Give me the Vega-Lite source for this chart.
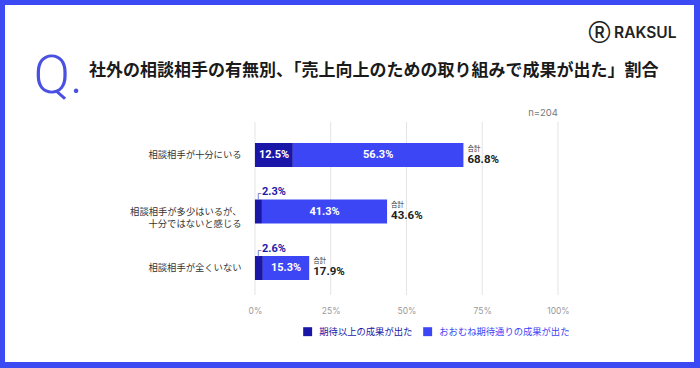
{
  "$schema": "https://vega.github.io/schema/vega-lite/v6.json",
  "width": 689,
  "height": 357,
  "autosize": {"type": "none"},
  "padding": {"left": 5, "top": 5, "right": 6, "bottom": 6},
  "background": "#3B4AF3",
  "view": {"fill": "#ffffff", "stroke": null},
  "title": {
    "text": "社外の相談相手の有無別、「売上向上のための取り組みで成果が出た」割合",
    "anchor": "start",
    "frame": "group",
    "dx": 84,
    "offset": -83,
    "baseline": "middle",
    "font": "Noto Sans CJK JP",
    "fontSize": 17,
    "fontWeight": "bold",
    "color": "#1a1a1a"
  },
  "datasets": {
    "bars": [
      {"cat": "相談相手が十分にいる", "series": "期待以上の成果が出た", "value": 0.125},
      {"cat": "相談相手が十分にいる", "series": "おおむね期待通りの成果が出た", "value": 0.563},
      {"cat": "相談相手が多少はいるが、十分ではないと感じる", "series": "期待以上の成果が出た", "value": 0.023},
      {"cat": "相談相手が多少はいるが、十分ではないと感じる", "series": "おおむね期待通りの成果が出た", "value": 0.413},
      {"cat": "相談相手が全くいない", "series": "期待以上の成果が出た", "value": 0.026},
      {"cat": "相談相手が全くいない", "series": "おおむね期待通りの成果が出た", "value": 0.153}
    ],
    "totals": [
      {"cat": "相談相手が十分にいる", "total": 0.688, "word": "合計"},
      {"cat": "相談相手が多少はいるが、十分ではないと感じる", "total": 0.436, "word": "合計"},
      {"cat": "相談相手が全くいない", "total": 0.179, "word": "合計"}
    ],
    "grid": [{"pct": 0}, {"pct": 0.25}, {"pct": 0.5}, {"pct": 0.75}, {"pct": 1}],
    "note": [{"note": "n=204"}]
  },
  "layer": [
    {
      "data": {"name": "grid"},
      "mark": {"type": "rule", "color": "#e4e4e4", "strokeWidth": 1},
      "encoding": {
        "x": {"field": "pct", "type": "quantitative"},
        "y": {"datum": "相談相手が十分にいる", "type": "nominal", "bandPosition": -0.875},
        "y2": {"datum": "相談相手が全くいない", "bandPosition": 1.625}
      }
    },
    {
      "data": {"name": "bars"},
      "transform": [
        {"stack": "value", "groupby": ["cat"], "sort": [{"field": "series", "order": "descending"}], "as": ["v0", "v1"]}
      ],
      "mark": {"type": "bar"},
      "encoding": {
        "y": {
          "field": "cat",
          "type": "nominal",
          "sort": ["相談相手が十分にいる", "相談相手が多少はいるが、十分ではないと感じる", "相談相手が全くいない"],
          "scale": {
            "domain": ["相談相手が十分にいる", "相談相手が多少はいるが、十分ではないと感じる", "相談相手が全くいない"],
            "range": [138, 275],
            "paddingInner": 0.575,
            "paddingOuter": 0
          },
          "axis": {
            "orient": "left",
            "offset": -236,
            "domain": false,
            "ticks": false,
            "grid": false,
            "labelPadding": 0,
            "labelFont": "Noto Sans CJK JP",
            "labelFontSize": 9.3,
            "labelColor": "#333333",
            "labelLimit": 400,
            "labelLineHeight": 12.5,
            "labelExpr": "datum.value == '相談相手が多少はいるが、十分ではないと感じる' ? ['相談相手が多少はいるが、', '十分ではないと感じる'] : datum.label",
            "title": "Q.",
            "titleAngle": 0,
            "titleX": -208,
            "titleY": 87,
            "titleAlign": "left",
            "titleBaseline": "alphabetic",
            "titleFont": "Roboto",
            "titleFontWeight": 300,
            "titleFontSize": 54,
            "titleColor": "#4A50E2"
          }
        },
        "x": {
          "field": "v0",
          "type": "quantitative",
          "scale": {"domain": [-0.825, 1.449], "nice": false, "zero": false},
          "axis": {
            "orient": "bottom",
            "offset": -56,
            "values": [0, 0.25, 0.5, 0.75, 1],
            "format": ".0%",
            "labelFont": "Inter",
            "labelFontSize": 8.5,
            "labelColor": "#9a9a9a",
            "labelPadding": 0,
            "labelOverlap": false,
            "domain": false,
            "ticks": false,
            "grid": false,
            "title": "Ⓡ RAKSUL",
            "titleX": 671,
            "titleY": -274,
            "titleAlign": "right",
            "titleBaseline": "middle",
            "titleFont": "Inter",
            "titleFontSize": 15.5,
            "titleFontWeight": 600,
            "titleColor": "#222222"
          }
        },
        "x2": {"field": "v1"},
        "color": {
          "field": "series",
          "type": "nominal",
          "scale": {
            "domain": ["期待以上の成果が出た", "おおむね期待通りの成果が出た"],
            "range": ["#1A16A8", "#3C46F5"]
          },
          "legend": {
            "orient": "none",
            "legendX": 298,
            "legendY": 322,
            "direction": "horizontal",
            "title": null,
            "symbolType": "square",
            "symbolSize": 80,
            "symbolStrokeWidth": 0,
            "labelFont": "Noto Sans CJK JP",
            "labelFontSize": 9.3,
            "labelOffset": 7,
            "columnPadding": 10,
            "encode": {"labels": {"update": {"fill": {"scale": "color", "field": "value"}}}}
          }
        }
      }
    },
    {
      "data": {"name": "bars"},
      "transform": [
        {"stack": "value", "groupby": ["cat"], "sort": [{"field": "series", "order": "descending"}], "as": ["v0", "v1"]},
        {"filter": "datum.series == '期待以上の成果が出た' && datum.value >= 0.05"}
      ],
      "mark": {"type": "text", "align": "left", "baseline": "middle", "dx": 4, "font": "Roboto", "fontWeight": "bold", "fontSize": 11, "color": "#ffffff"},
      "encoding": {
        "y": {"field": "cat", "type": "nominal"},
        "x": {"field": "v0", "type": "quantitative"},
        "text": {"field": "value", "type": "quantitative", "format": ".1%"}
      }
    },
    {
      "data": {"name": "bars"},
      "transform": [
        {"stack": "value", "groupby": ["cat"], "sort": [{"field": "series", "order": "descending"}], "as": ["v0", "v1"]},
        {"filter": "datum.series == '期待以上の成果が出た' && datum.value < 0.05"}
      ],
      "mark": {"type": "text", "align": "left", "baseline": "middle", "dx": 7, "dy": -7, "font": "Roboto", "fontWeight": "bold", "fontSize": 11, "color": "#1E1AA8"},
      "encoding": {
        "y": {"field": "cat", "type": "nominal", "bandPosition": 0},
        "x": {"field": "v0", "type": "quantitative"},
        "text": {"field": "value", "type": "quantitative", "format": ".1%"}
      }
    },
    {
      "data": {"name": "bars"},
      "transform": [
        {"stack": "value", "groupby": ["cat"], "sort": [{"field": "series", "order": "descending"}], "as": ["v0", "v1"]},
        {"filter": "datum.series == '期待以上の成果が出た' && datum.value < 0.05"}
      ],
      "mark": {"type": "text", "align": "left", "baseline": "alphabetic", "dx": 0, "dy": -2.4, "font": "DejaVu Sans", "fontSize": 10, "color": "#6a6ab8"},
      "encoding": {
        "y": {"field": "cat", "type": "nominal", "bandPosition": 0},
        "x": {"field": "v0", "type": "quantitative"},
        "text": {"value": "┌"}
      }
    },
    {
      "data": {"name": "bars"},
      "transform": [
        {"stack": "value", "groupby": ["cat"], "sort": [{"field": "series", "order": "descending"}], "as": ["v0", "v1"]},
        {"filter": "datum.series == 'おおむね期待通りの成果が出た'"},
        {"fold": ["v0", "v1"], "as": ["edge", "pos"]}
      ],
      "mark": {"type": "text", "align": "center", "baseline": "middle", "font": "Roboto", "fontWeight": "bold", "fontSize": 11, "color": "#ffffff"},
      "encoding": {
        "y": {"field": "cat", "type": "nominal"},
        "x": {"aggregate": "mean", "field": "pos", "type": "quantitative"},
        "text": {"field": "value", "type": "quantitative", "format": ".1%"}
      }
    },
    {
      "data": {"name": "totals"},
      "mark": {"type": "text", "align": "left", "baseline": "middle", "dx": 4, "dy": -6.5, "font": "Noto Sans CJK JP", "fontSize": 6.5, "color": "#333333"},
      "encoding": {
        "y": {"field": "cat", "type": "nominal"},
        "x": {"field": "total", "type": "quantitative"},
        "text": {"field": "word", "type": "nominal"}
      }
    },
    {
      "data": {"name": "totals"},
      "mark": {"type": "text", "align": "left", "baseline": "middle", "dx": 4, "dy": 4.5, "font": "Roboto", "fontWeight": "bold", "fontSize": 11.5, "color": "#222222"},
      "encoding": {
        "y": {"field": "cat", "type": "nominal"},
        "x": {"field": "total", "type": "quantitative"},
        "text": {"field": "total", "type": "quantitative", "format": ".1%"}
      }
    },
    {
      "data": {"name": "note"},
      "mark": {"type": "text", "align": "right", "baseline": "middle", "font": "Inter", "fontSize": 9.5, "color": "#777777"},
      "encoding": {
        "x": {"datum": 1, "type": "quantitative"},
        "y": {"datum": "相談相手が十分にいる", "type": "nominal", "bandPosition": -1.25},
        "text": {"field": "note", "type": "nominal"}
      }
    }
  ]
}
